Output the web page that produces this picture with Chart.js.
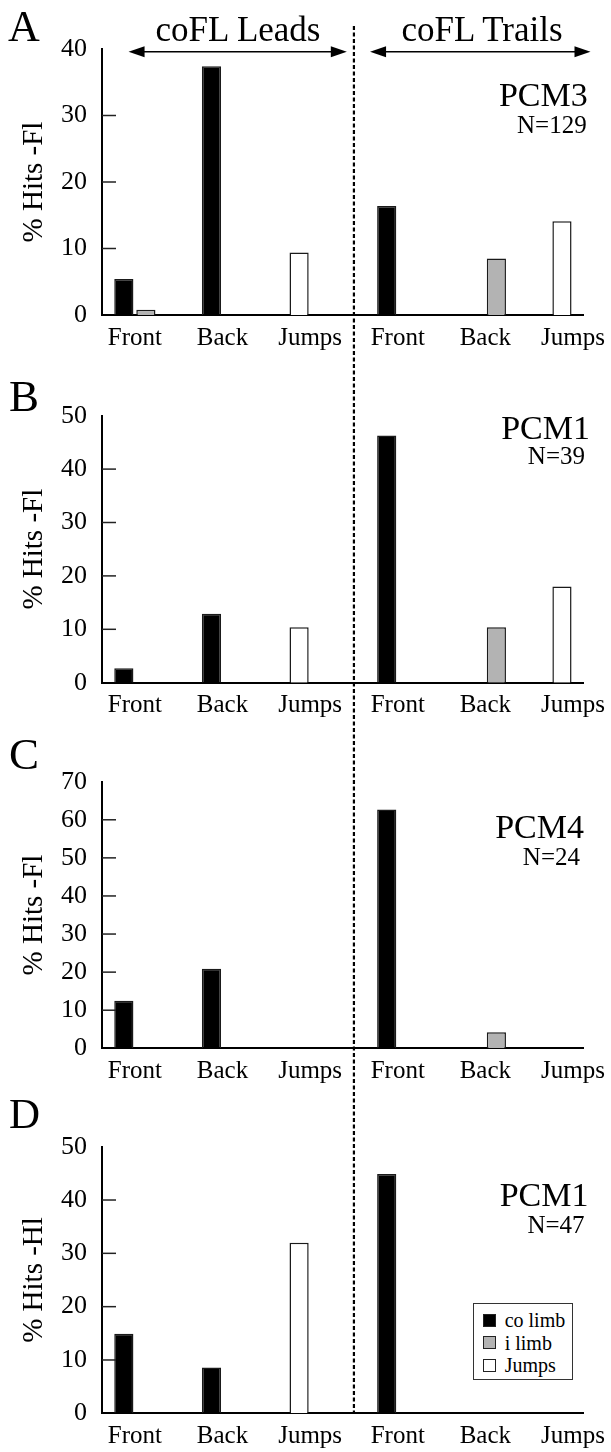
<!DOCTYPE html>
<html>
<head>
<meta charset="utf-8">
<script src="https://cdn.jsdelivr.net/npm/chart.js@4.4.1/dist/chart.umd.min.js"></script>
<style>
  body { margin: 0; background: #fff; }
  #page { position: relative; width: 611px; height: 1452px; font-family: "Liberation Serif", "Times New Roman", serif; color: #000; overflow: hidden; }
  canvas { position: absolute; left: 0; }
  .t { position: absolute; white-space: nowrap; line-height: 1; }
  #legend { position: absolute; box-sizing: border-box; border: 1.5px solid #333; background: #fff; }
  #legend .sw { position: absolute; width: 13px; height: 13px; box-sizing: border-box; border: 1.3px solid #222; }
</style>
</head>
<body>
<div id="page"></div>
<script>
// x categories: first three = coFL leads, last three = coFL trails
const categories = ["Front", "Back", "Jumps", "Front", "Back", "Jumps"];
const seriesNames = ["co limb", "i limb", "Jumps"];
const seriesColors = ["#000000", "#b3b3b3", "#ffffff"];

// A - PCM3 (forelimb)
const pcm3CoLimb = [5.4, 37.4, null, 16.4, null, null];
const pcm3ILimb  = [0.8, null, null, null, 8.5, null];
const pcm3Jumps  = [null, null, 9.4, null, null, 14.1];

// B - PCM1 (forelimb)
const pcm1FlCoLimb = [2.7, 12.9, null, 46.3, null, null];
const pcm1FlILimb  = [null, null, null, null, 10.4, null];
const pcm1FlJumps  = [null, null, 10.4, null, null, 18.0];

// C - PCM4 (forelimb)
const pcm4CoLimb = [12.5, 20.9, null, 62.7, null, null];
const pcm4ILimb  = [null, null, null, null, 4.2, null];
const pcm4Jumps  = [null, null, 0, null, null, 0];

// D - PCM1 (hindlimb)
const pcm1HlCoLimb = [14.9, 8.6, null, 44.9, 0, null];
const pcm1HlILimb  = [0, 0, null, 0, 0, null];
const pcm1HlJumps  = [null, null, 32.0, null, null, 0];

const panelLetters = ["A", "B", "C", "D"];
const unitNames = ["PCM3", "PCM1", "PCM4", "PCM1"];
const unitCounts = [129, 39, 24, 47];
const yTitles = ["% Hits -Fl", "% Hits -Fl", "% Hits -Fl", "% Hits -Hl"];
const yMaxes = [40, 50, 70, 50];
const headerTexts = ["coFL Leads", "coFL Trails"];

const panelSeries = [
  [pcm3CoLimb, pcm3ILimb, pcm3Jumps],
  [pcm1FlCoLimb, pcm1FlILimb, pcm1FlJumps],
  [pcm4CoLimb, pcm4ILimb, pcm4Jumps],
  [pcm1HlCoLimb, pcm1HlILimb, pcm1HlJumps],
];

// ---- layout (pixels) ----
const W = 611;
const xMin = -0.375, xMax = 5.12;   // x range so the axes start/end like the figure
const dividerAt = 2.5;              // between the two halves
const headerSpans = [[-0.072, 2.419], [2.684, 5.2]];
const panels = [
  { top: 0,    height: 360, areaTop: 49,   areaBottom: 315,   letter: [8, 42, 44],    unit: [587.7, 106.7], n: [586.7, 133.3] },
  { top: 360,  height: 360, areaTop: 55.7, areaBottom: 322.7, letter: [9, 411.7, 45], unit: [590, 439],     n: [585, 464] },
  { top: 720,  height: 370, areaTop: 61.7, areaBottom: 328.3, letter: [9, 770, 45],   unit: [584, 838.3],   n: [580, 865] },
  { top: 1090, height: 362, areaTop: 56.7, areaBottom: 323.3, letter: [9, 1128.3, 43], unit: [588.5, 1206], n: [584.6, 1233.3] },
];

const page = document.getElementById("page");
const serif = "'Liberation Serif', 'Times New Roman', serif";

function addText(str, o) {
  const d = document.createElement("div");
  d.className = "t";
  d.textContent = str;
  d.style.fontSize = o.size + "px";
  d.style.top = (o.base - 0.8375 * o.size) + "px";
  if (o.left != null) d.style.left = o.left + "px";
  if (o.right != null) d.style.right = (W - o.right) + "px";
  if (o.center != null) { d.style.left = o.center + "px"; d.style.transform = "translateX(-50%)"; }
  (o.parent || page).appendChild(d);
  return d;
}

const overlay = {
  id: "overlay",
  afterDraw(chart, args, opts) {
    const { ctx, chartArea, scales: { x, y } } = chart;
    ctx.save();
    // small tick marks pointing into the plot
    ctx.strokeStyle = "#222";
    ctx.lineWidth = 1.5;
    y.ticks.forEach(t => {
      if (t.value === 0 || t.value === y.max) return;
      const py = y.getPixelForValue(t.value);
      ctx.beginPath();
      ctx.moveTo(chartArea.left, py);
      ctx.lineTo(chartArea.left + 14, py);
      ctx.stroke();
    });
    // dotted divider between leads and trails
    const dx = x.getPixelForValue(dividerAt);
    const from = opts.from, to = opts.to === "axis" ? chartArea.bottom : chart.height;
    ctx.setLineDash([4, 2.5]);
    ctx.lineDashOffset = opts.absTop + from;
    ctx.lineWidth = 2.2;
    ctx.strokeStyle = "#000";
    ctx.beginPath();
    ctx.moveTo(dx, from);
    ctx.lineTo(dx, to);
    ctx.stroke();
    ctx.setLineDash([]);
    // double-headed arrows over each half
    if (opts.arrows) {
      const ay = opts.arrowY, head = 16, half = 5.5;
      ctx.fillStyle = "#000";
      ctx.lineWidth = 1.5;
      headerSpans.forEach(([a, b]) => {
        const x1 = x.getPixelForValue(a), x2 = x.getPixelForValue(b);
        ctx.beginPath();
        ctx.moveTo(x1 + head - 2, ay);
        ctx.lineTo(x2 - head + 2, ay);
        ctx.stroke();
        ctx.beginPath();
        ctx.moveTo(x1, ay); ctx.lineTo(x1 + head, ay - half); ctx.lineTo(x1 + head, ay + half); ctx.closePath();
        ctx.fill();
        ctx.beginPath();
        ctx.moveTo(x2, ay); ctx.lineTo(x2 - head, ay - half); ctx.lineTo(x2 - head, ay + half); ctx.closePath();
        ctx.fill();
      });
    }
    ctx.restore();
  }
};

function toPoints(values) {
  return values.map((v, i) => ({ x: i, y: v })).filter(p => p.y != null && p.y > 0);
}

const charts = panels.map((L, p) => {
  const canvas = document.createElement("canvas");
  canvas.width = W;
  canvas.height = L.height;
  canvas.style.top = L.top + "px";
  canvas.style.width = W + "px";
  canvas.style.height = L.height + "px";
  page.appendChild(canvas);

  const datasets = panelSeries[p].map((vals, s) => ({
    label: seriesNames[s],
    data: toPoints(vals),
    stack: s === 1 ? "ipsi" : "main",
    backgroundColor: seriesColors[s],
    borderColor: "#1a1a1a",
    borderWidth: 1.5,
  }));

  return new Chart(canvas.getContext("2d"), {
    type: "bar",
    data: { datasets },
    plugins: [overlay],
    options: {
      responsive: false,
      animation: false,
      devicePixelRatio: 1,
      layout: { padding: { top: L.areaTop, right: 27.5, bottom: 0, left: 0 } },
      datasets: { bar: { categoryPercentage: 0.503, barPercentage: 0.87 } },
      plugins: {
        legend: { display: false },
        tooltip: { enabled: false },
        overlay: {
          absTop: L.top,
          from: p === 0 ? 25 : 0,
          to: p === 3 ? "axis" : "bottom",
          arrows: p === 0,
          arrowY: 51.7,
        },
      },
      scales: {
        x: {
          type: "linear",
          min: xMin,
          max: xMax,
          offset: false,
          grid: { display: false, drawTicks: false },
          border: { display: true, color: "#000", width: 2 },
          ticks: {
            stepSize: 1,
            includeBounds: false,
            autoSkip: false,
            maxRotation: 0,
            padding: 8,
            color: "#000",
            font: { family: serif, size: 25 },
            callback: v => categories[v] ?? "",
          },
          afterFit: s => {
            s.height = L.height - L.areaBottom;
            s.paddingLeft = 0;
            s.paddingRight = 0;
          },
        },
        y: {
          stacked: true,
          min: 0,
          max: yMaxes[p],
          grid: { display: false, drawTicks: false },
          border: { display: true, color: "#000", width: 2 },
          ticks: {
            stepSize: 10,
            padding: 15,
            color: "#000",
            font: { family: serif, size: 26 },
          },
          title: {
            display: true,
            text: yTitles[p],
            color: "#000",
            font: { family: serif, size: 29 },
            padding: { top: 17, bottom: 0 },
          },
          afterFit: s => { s.width = 102; },
        },
      },
    },
  });
});

// panel letters and unit labels
panels.forEach((L, p) => {
  addText(panelLetters[p], { left: L.letter[0], base: L.letter[1], size: L.letter[2] });
  addText(unitNames[p], { right: L.unit[0], base: L.unit[1], size: 34 });
  addText("N=" + unitCounts[p], { right: L.n[0], base: L.n[1], size: 25 });
});

// header over the top panel
addText(headerTexts[0], { center: 238, base: 41, size: 35 });
addText(headerTexts[1], { center: 482, base: 41, size: 35 });

// legend for the last panel, built from its datasets
const chartD = charts[3];
const legendItems = Chart.defaults.plugins.legend.labels.generateLabels(chartD);
const legend = document.createElement("div");
legend.id = "legend";
legend.style.left = "472.7px";
legend.style.top = "1302.7px";
legend.style.width = "100px";
legend.style.height = "77.3px";
page.appendChild(legend);
legendItems.forEach((item, k) => {
  const cy = 18 + k * 22.7;
  const sw = document.createElement("div");
  sw.className = "sw";
  sw.style.left = "9px";
  sw.style.top = (cy - 6.5 - 1.5) + "px";
  sw.style.background = item.fillStyle;
  legend.appendChild(sw);
  addText(item.text, { left: 31, base: cy + 6.6 - 1.5, size: 20, parent: legend });
});
</script>
</body>
</html>
